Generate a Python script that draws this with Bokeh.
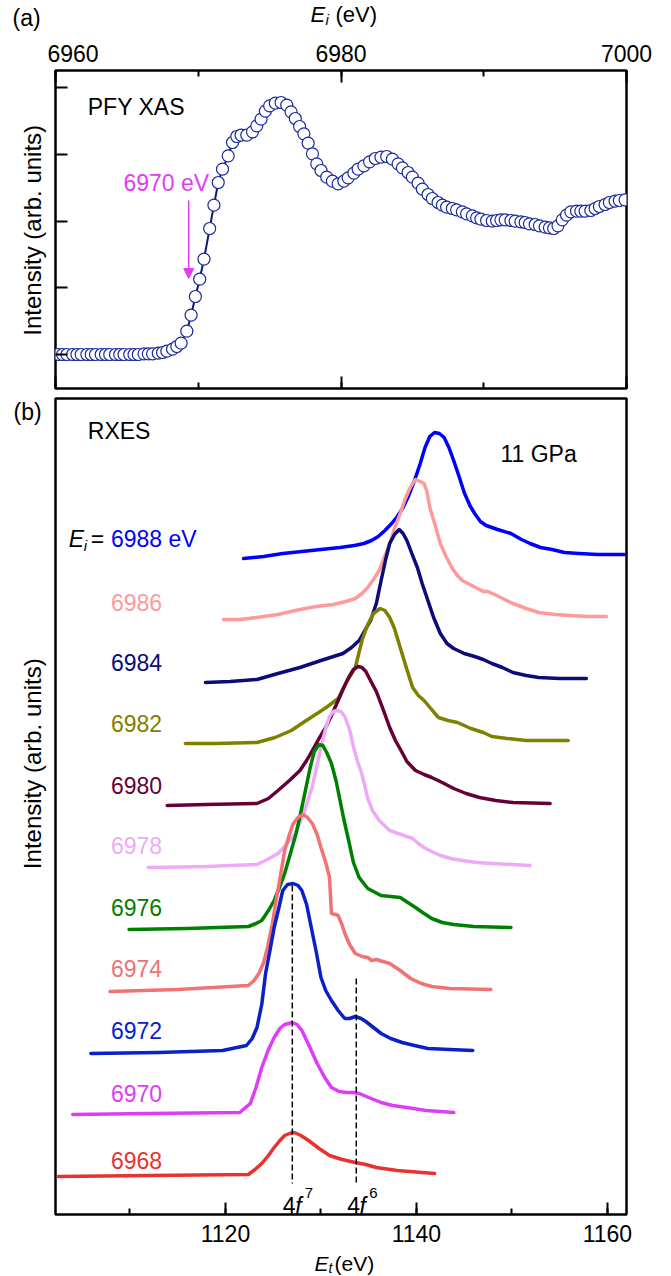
import math
from bokeh.plotting import figure
from bokeh.layouts import column, row
from bokeh.models import (ColumnDataSource, Arrow, NormalHead, SingleIntervalTicker,
                          LinearAxis, Range1d, CustomJSTickFormatter)
from bokeh.core.properties import value
from bokeh.embed import file_html
from bokeh.resources import INLINE

FONT = "Liberation Sans"

# ---------------- (a) PFY XAS data ----------------
xas_e = [6960.2, 6960.5, 6960.8, 6961.2, 6961.5, 6961.8, 6962.2, 6962.5, 6962.8, 6963.2,
         6963.5, 6963.8, 6964.2, 6964.5, 6964.8, 6965.2, 6965.5, 6965.8, 6966.2, 6966.5,
         6966.8, 6967.2, 6967.5, 6967.8, 6968.2, 6968.5, 6968.8, 6969.2, 6969.5, 6969.8,
         6970.1, 6970.4, 6970.8, 6971.1, 6971.4, 6971.7, 6972.1, 6972.4, 6972.7, 6973.0,
         6973.4, 6973.8, 6974.1, 6974.4, 6974.7, 6975.0, 6975.4, 6975.8, 6976.2, 6976.5,
         6976.8, 6977.1, 6977.4, 6977.7, 6978.0, 6978.3, 6978.6, 6979.0, 6979.4, 6979.8,
         6980.2, 6980.5, 6980.9, 6981.2, 6981.6, 6982.0, 6982.4, 6982.8, 6983.2, 6983.6,
         6984.0, 6984.3, 6984.7, 6985.0, 6985.4, 6985.7, 6986.1, 6986.4, 6986.8, 6987.1,
         6987.4, 6987.8, 6988.1, 6988.5, 6988.8, 6989.2, 6989.5, 6989.8, 6990.2, 6990.6,
         6990.9, 6991.2, 6991.5, 6991.9, 6992.2, 6992.6, 6992.9, 6993.2, 6993.6, 6993.9,
         6994.3, 6994.6, 6994.9, 6995.2, 6995.5, 6995.8, 6996.1, 6996.5, 6996.8, 6997.1,
         6997.5, 6997.8, 6998.1, 6998.5, 6998.8, 6999.2, 6999.5, 6999.9]
xas_i = [0.00, 0.00, 0.00, 0.00, 0.00, 0.00, 0.00, 0.00, 0.00, 0.00,
         0.00, 0.00, 0.00, 0.00, 0.00, 0.00, 0.00, 0.00, 0.01, 0.01,
         0.01, 0.02, 0.03, 0.05, 0.08, 0.12, 0.17, 0.35, 0.59, 0.87,
         1.13, 1.43, 1.89, 2.24, 2.58, 2.78, 2.98, 3.18, 3.27, 3.29,
         3.29, 3.34, 3.43, 3.53, 3.65, 3.73, 3.77, 3.78, 3.74, 3.64,
         3.54, 3.42, 3.31, 3.17, 3.01, 2.86, 2.76, 2.66, 2.60, 2.56,
         2.60, 2.65, 2.72, 2.78, 2.83, 2.89, 2.94, 2.96, 2.97, 2.93,
         2.86, 2.80, 2.73, 2.66, 2.57, 2.48, 2.40, 2.34, 2.28, 2.24,
         2.21, 2.19, 2.17, 2.14, 2.11, 2.08, 2.05, 2.03, 2.01, 2.00,
         2.01, 2.02, 2.02, 2.01, 2.00, 1.99, 1.98, 1.96, 1.95, 1.93,
         1.91, 1.90, 1.89, 1.93, 2.02, 2.09, 2.14, 2.15, 2.15, 2.15,
         2.16, 2.19, 2.22, 2.25, 2.28, 2.30, 2.31, 2.32]
arrow_e = 6969.33
arrow_from = 2.31
arrow_to = 1.14

# ---------------- (b) RXES data ----------------
e6988 = [1121.9, 1124.0, 1126.0, 1128.0, 1130.0, 1132.0, 1133.5, 1134.5, 1135.3, 1136.0,
         1136.7, 1137.4, 1138.0, 1138.6, 1139.2, 1139.8, 1140.4, 1140.9, 1141.4, 1141.9,
         1142.4, 1142.9, 1143.4, 1143.9, 1144.5, 1145.0, 1145.6, 1146.1, 1146.7, 1147.3,
         1148.5, 1149.9, 1151.0, 1151.9, 1153.0, 1154.2, 1155.5, 1157.0, 1159.0, 1161.8]
i6988 = [6.56, 6.58, 6.61, 6.63, 6.65, 6.67, 6.69, 6.71, 6.74, 6.78,
         6.84, 6.91, 6.98, 7.07, 7.19, 7.34, 7.51, 7.67, 7.78, 7.82,
         7.81, 7.77, 7.67, 7.54, 7.37, 7.22, 7.09, 7.01, 6.93, 6.89,
         6.85, 6.81, 6.75, 6.71, 6.67, 6.65, 6.62, 6.61, 6.60, 6.60]
e6986 = [1119.8, 1121.5, 1123.3, 1125.5, 1127.8, 1129.5, 1131.3, 1132.6, 1133.6, 1134.3,
         1134.9, 1135.5, 1136.1, 1136.6, 1137.2, 1137.7, 1138.3, 1138.8, 1139.2, 1139.6,
         1139.9, 1140.4, 1140.8, 1141.1, 1141.4, 1142.0, 1142.5, 1143.1, 1143.7, 1144.2,
         1144.8, 1146.0, 1147.0, 1147.5, 1148.4, 1150.1, 1151.5, 1152.8, 1154.5, 1156.0,
         1158.0, 1159.9]
i6986 = [5.95, 5.95, 5.97, 6.00, 6.05, 6.08, 6.10, 6.13, 6.16, 6.21,
         6.27, 6.35, 6.44, 6.56, 6.71, 6.86, 7.01, 7.15, 7.24, 7.31,
         7.35, 7.33, 7.31, 7.23, 7.07, 6.88, 6.71, 6.58, 6.47, 6.40,
         6.34, 6.28, 6.23, 6.23, 6.19, 6.11, 6.06, 6.02, 6.00, 5.99,
         5.98, 5.98]
e6984 = [1117.9, 1120.5, 1123.3, 1125.5, 1127.8, 1130.0, 1132.3, 1133.2, 1134.0, 1134.6,
         1135.2, 1135.8, 1136.3, 1136.8, 1137.2, 1137.7, 1138.2, 1138.6, 1139.0, 1139.6,
         1140.1, 1140.6, 1141.2, 1141.8, 1142.5, 1143.2, 1143.9, 1145.0, 1146.1, 1147.0,
         1147.9, 1149.0, 1150.1, 1151.5, 1152.8, 1155.0, 1157.8]
i6984 = [5.32, 5.33, 5.35, 5.41, 5.47, 5.54, 5.61, 5.67, 5.74, 5.84,
         5.94, 6.11, 6.34, 6.56, 6.71, 6.80, 6.85, 6.81, 6.74, 6.59,
         6.47, 6.31, 6.14, 5.97, 5.81, 5.71, 5.66, 5.61, 5.58, 5.55,
         5.51, 5.47, 5.42, 5.39, 5.37, 5.36, 5.36]
e6982 = [1115.8, 1119.0, 1123.3, 1125.2, 1126.9, 1128.3, 1129.6, 1130.7, 1131.8, 1132.7,
         1133.6, 1134.3, 1134.9, 1135.5, 1136.2, 1136.7, 1137.2, 1137.7, 1138.3, 1139.0,
         1139.6, 1140.2, 1140.8, 1141.5, 1142.3, 1143.3, 1144.3, 1145.7, 1147.0, 1147.9,
         1149.5, 1151.5, 1155.9]
i6982 = [4.71, 4.71, 4.72, 4.77, 4.84, 4.93, 5.01, 5.08, 5.16, 5.33,
         5.47, 5.74, 5.90, 6.01, 6.06, 6.04, 5.97, 5.86, 5.67, 5.45,
         5.27, 5.19, 5.14, 5.06, 4.97, 4.94, 4.92, 4.86, 4.82, 4.78,
         4.76, 4.74, 4.74]
e6980 = [1113.9, 1118.0, 1123.3, 1124.5, 1125.5, 1126.7, 1127.8, 1128.5, 1129.1, 1129.8,
         1130.5, 1131.2, 1131.8, 1132.4, 1132.9, 1133.4, 1133.9, 1134.3, 1134.7, 1135.3,
         1135.8, 1136.4, 1137.2, 1137.8, 1138.5, 1139.0, 1139.9, 1140.8, 1141.6, 1142.7,
         1143.9, 1145.2, 1146.6, 1148.3, 1150.1, 1154.0]
i6980 = [4.09, 4.10, 4.11, 4.16, 4.24, 4.34, 4.44, 4.54, 4.64, 4.76,
         4.87, 5.01, 5.14, 5.27, 5.37, 5.45, 5.48, 5.47, 5.43, 5.32,
         5.23, 5.08, 4.87, 4.74, 4.62, 4.53, 4.44, 4.40, 4.37, 4.32,
         4.26, 4.21, 4.17, 4.14, 4.12, 4.11]
e6978 = [1111.9, 1118.0, 1123.3, 1124.4, 1125.5, 1126.4, 1127.3, 1128.2, 1129.1, 1130.0,
         1130.5, 1130.9, 1131.3, 1131.7, 1132.1, 1132.5, 1133.0, 1133.4, 1133.8, 1134.3,
         1134.9, 1135.4, 1136.1, 1137.2, 1138.4, 1139.6, 1140.2, 1140.8, 1141.6, 1142.5,
         1143.6, 1144.8, 1146.3, 1147.9, 1151.9]
i6978 = [3.47, 3.48, 3.50, 3.55, 3.61, 3.70, 3.81, 4.01, 4.28, 4.67,
         4.86, 4.98, 5.03, 5.04, 5.03, 4.98, 4.85, 4.68, 4.54, 4.40,
         4.16, 4.04, 3.94, 3.84, 3.80, 3.76, 3.71, 3.67, 3.63, 3.59,
         3.56, 3.54, 3.52, 3.51, 3.49]
e6976 = [1109.9, 1116.0, 1122.4, 1123.2, 1123.8, 1124.5, 1125.1, 1125.7, 1126.2, 1126.8,
         1127.4, 1128.0, 1128.5, 1128.9, 1129.3, 1129.8, 1130.2, 1130.6, 1131.1, 1131.6,
         1132.0, 1132.4, 1132.9, 1133.4, 1134.0, 1134.9, 1136.3, 1137.3, 1138.3, 1139.1,
         1139.9, 1140.8, 1141.6, 1142.7, 1143.9, 1146.0, 1149.9]
i6976 = [2.85, 2.86, 2.88, 2.91, 2.94, 3.04, 3.14, 3.28, 3.41, 3.61,
         3.81, 4.07, 4.30, 4.48, 4.63, 4.70, 4.69, 4.62, 4.51, 4.33,
         4.14, 3.95, 3.74, 3.52, 3.37, 3.26, 3.19, 3.18, 3.17, 3.12,
         3.07, 3.01, 2.96, 2.92, 2.90, 2.88, 2.87]
e6974 = [1107.9, 1115.0, 1122.4, 1123.0, 1123.5, 1124.0, 1124.4, 1124.9, 1125.3, 1125.8,
         1126.2, 1126.7, 1127.1, 1127.6, 1128.1, 1128.6, 1129.1, 1129.6, 1130.0, 1130.5,
         1130.9, 1131.1, 1131.5, 1131.8, 1132.2, 1132.5, 1133.0, 1133.6, 1134.3, 1134.9,
         1135.3, 1135.8, 1137.2, 1138.3, 1139.4, 1140.5, 1141.6, 1143.5, 1147.8]
i6974 = [2.23, 2.25, 2.29, 2.34, 2.41, 2.52, 2.67, 2.90, 3.14, 3.41,
         3.64, 3.80, 3.91, 3.97, 4.00, 3.97, 3.91, 3.80, 3.67, 3.52,
         3.37, 3.01, 3.00, 2.99, 2.90, 2.81, 2.70, 2.61, 2.58, 2.57,
         2.54, 2.55, 2.51, 2.44, 2.36, 2.31, 2.28, 2.26, 2.25]
e6972 = [1105.9, 1113.0, 1119.7, 1122.2, 1122.8, 1123.3, 1123.8, 1124.2, 1124.7, 1125.1,
         1125.6, 1126.0, 1126.5, 1127.1, 1127.6, 1128.0, 1128.5, 1128.9, 1129.5, 1130.0,
         1130.5, 1131.1, 1131.8, 1132.5, 1133.0, 1133.6, 1134.2, 1134.7, 1135.5, 1136.3,
         1137.3, 1138.5, 1139.8, 1141.2, 1143.5, 1145.9]
i6972 = [1.61, 1.62, 1.64, 1.69, 1.76, 1.87, 2.10, 2.41, 2.66, 2.87,
         3.07, 3.24, 3.30, 3.31, 3.29, 3.24, 3.10, 2.91, 2.63, 2.37,
         2.24, 2.14, 2.04, 1.96, 1.96, 1.98, 1.96, 1.93, 1.87, 1.81,
         1.76, 1.72, 1.69, 1.66, 1.65, 1.64]
e6970 = [1104.0, 1112.0, 1121.5, 1122.6, 1123.2, 1123.8, 1124.5, 1125.1, 1125.7, 1126.2,
         1127.0, 1127.5, 1128.0, 1128.8, 1129.6, 1130.4, 1131.1, 1131.9, 1132.7, 1133.4,
         1134.0, 1135.0, 1136.3, 1137.5, 1139.0, 1141.0, 1143.9]
i6970 = [1.00, 1.01, 1.02, 1.11, 1.27, 1.47, 1.65, 1.77, 1.86, 1.90,
         1.92, 1.90, 1.84, 1.68, 1.51, 1.37, 1.27, 1.23, 1.22, 1.22,
         1.21, 1.17, 1.12, 1.09, 1.07, 1.04, 1.02]
e6968 = [1102.5, 1112.0, 1122.4, 1123.1, 1123.8, 1124.5, 1125.1, 1125.7, 1126.2, 1126.7,
         1127.2, 1127.9, 1128.7, 1129.8, 1130.9, 1132.2, 1133.6, 1134.7, 1135.8, 1138.0,
         1141.9]
i6968 = [0.38, 0.39, 0.40, 0.45, 0.51, 0.59, 0.67, 0.74, 0.79, 0.81,
         0.82, 0.79, 0.74, 0.66, 0.59, 0.55, 0.52, 0.50, 0.47, 0.44,
         0.41]

ei_labels = ["6988 eV", "6986", "6984", "6982", "6980", "6978",
             "6976", "6974", "6972", "6970", "6968"]
ei_label_y = [6.76, 6.12, 5.52, 4.91, 4.29, 3.69, 3.07, 2.46, 1.84, 1.21, 0.54]
colors = ["#0000ff", "#ff9a9a", "#0c0c78", "#808000", "#650038", "#eeaaf7",
          "#008000", "#f07272", "#0a20c8", "#de3cf8", "#e83232"]
curves_e = [e6988, e6986, e6984, e6982, e6980, e6978, e6976, e6974, e6972, e6970, e6968]
curves_i = [i6988, i6986, i6984, i6982, i6980, i6978, i6976, i6974, i6972, i6970, i6968]

peak_x = [1127.0, 1133.7]      # 4f7 and 4f6 markers
peak_top = [3.29, 2.36]
peak_bottom = [0.31, 0.31]

MAG = "#e33cf5"


def base_style(p):
    p.xgrid.visible = False
    p.ygrid.visible = False
    p.outline_line_color = "black"
    p.outline_line_width = 2.5
    p.background_fill_color = "white"
    p.border_fill_color = "white"


def style_axis(ax, labels=True, standoff=4):
    ax.axis_line_color = None
    ax.major_tick_in = 12
    ax.major_tick_out = 0
    ax.minor_tick_in = 6
    ax.minor_tick_out = 0
    ax.major_tick_line_width = 2
    ax.minor_tick_line_width = 2
    ax.major_tick_line_color = "black"
    ax.minor_tick_line_color = "black"
    ax.major_label_text_font = FONT
    ax.major_label_text_color = "black"
    if labels:
        ax.major_label_text_font_size = "23px"
        ax.major_label_standoff = standoff
    else:
        ax.formatter = CustomJSTickFormatter(code="return ''")
        ax.major_label_text_font_size = "1px"
        ax.major_label_standoff = 0


def text_canvas(w, h):
    """A blank figure whose frame fills the canvas; data units = pixels from top-left."""
    c = figure(width=w, height=h, x_range=Range1d(0, w), y_range=Range1d(h, 0),
               x_axis_location=None, y_axis_location=None, min_border=0,
               output_backend="svg", toolbar_location=None)
    c.xgrid.visible = False
    c.ygrid.visible = False
    c.outline_line_color = None
    c.background_fill_color = "white"
    c.border_fill_color = "white"
    return c


def put(c, x, y, t, size="23px", style="normal", color="black", align="left", angle=0.0):
    c.text(x=[x], y=[y], text=[t], text_font=value(FONT), text_font_size=value(size),
           text_font_style=style, text_color=color, text_align=align,
           text_baseline="middle", angle=angle)


# ---------- header: (a) and top axis title ----------
header = text_canvas(658, 34)
put(header, 12, 17, "(a)")
put(header, 310, 13.5, "E", size="22px", style="italic")
put(header, 325, 18.5, "i", size="15px", style="italic")
put(header, 335, 13.5, "(eV)", size="22px")

# ================= panel (a) =================
pa = figure(width=611, height=359,
            x_range=Range1d(6960, 7000), y_range=Range1d(-0.51, 4.26),
            x_axis_location="above", output_backend="svg", toolbar_location=None,
            min_border_left=8, min_border_right=32, min_border_top=36,
            min_border_bottom=5)
base_style(pa)
pa.xaxis.ticker = SingleIntervalTicker(interval=20, num_minor_ticks=2)
style_axis(pa.xaxis[0], labels=True, standoff=9)
bottom_ax = LinearAxis(ticker=SingleIntervalTicker(interval=20, num_minor_ticks=2))
style_axis(bottom_ax, labels=False)
pa.add_layout(bottom_ax, "below")
pa.yaxis.ticker = SingleIntervalTicker(interval=1, num_minor_ticks=0)
style_axis(pa.yaxis[0], labels=False)

pa.line(xas_e, xas_i, line_color="#0d1a6e", line_width=2)
pa.scatter(xas_e, xas_i, marker="circle", size=12, fill_color="white",
           line_color="#1a2a9a", line_width=1.2)
pa.text(x=[6962.26], y=[3.71], text=["PFY XAS"], text_font=value(FONT),
        text_font_size=value("23px"), text_color="black",
        text_align="left", text_baseline="middle")
pa.text(x=[6964.76], y=[2.58], text=["6970 eV"], text_font=value(FONT),
        text_font_size=value("23px"), text_color=MAG,
        text_align="left", text_baseline="middle")
pa.add_layout(Arrow(end=NormalHead(size=10, fill_color=MAG, line_color=MAG, line_width=1),
                    x_start=arrow_e, y_start=arrow_from, x_end=arrow_e, y_end=arrow_to,
                    line_color=MAG, line_width=1.5))

strip_a = text_canvas(47, 359)
put(strip_a, 32, 180.4, "Intensity (arb. units)", size="24px", align="center",
    angle=math.pi / 2)

# ================= panel (b) =================
pb = figure(width=611, height=859,
            x_range=Range1d(1102.2, 1162.0), y_range=Range1d(0, 8.16),
            output_backend="svg", toolbar_location=None,
            min_border_left=8, min_border_right=32, min_border_top=5,
            min_border_bottom=38)
base_style(pb)
pb.xaxis.ticker = SingleIntervalTicker(interval=20, num_minor_ticks=2)
style_axis(pb.xaxis[0], labels=True, standoff=10)
pb.yaxis.visible = False

for e, i, c in zip(curves_e, curves_i, colors):
    pb.line(e, i, line_color=c, line_width=3.5, line_join="round", line_cap="round")

pb.segment(x0=peak_x, y0=peak_top, x1=peak_x, y1=peak_bottom,
           line_color="black", line_width=1.5, line_dash="6 3")

lab_src = ColumnDataSource(dict(x=[1108.0] * len(ei_labels), y=ei_label_y,
                                text=ei_labels, color=colors))
pb.text(x="x", y="y", text="text", text_color="color", source=lab_src,
        text_font=value(FONT), text_font_size=value("23px"),
        text_align="left", text_baseline="middle")
pb.text(x=[1103.6], y=[6.76], text=["E"], text_font=value(FONT),
        text_font_size=value("23px"), text_font_style="italic",
        text_align="left", text_baseline="middle", text_color="black")
pb.text(x=[1105.15], y=[6.69], text=["i"], text_font=value(FONT),
        text_font_size=value("15px"), text_font_style="italic",
        text_align="left", text_baseline="middle", text_color="black")
pb.text(x=[1105.9], y=[6.76], text=["="], text_font=value(FONT),
        text_font_size=value("23px"),
        text_align="left", text_baseline="middle", text_color="black")
pb.text(x=[1105.58], y=[7.84], text=["RXES"], text_font=value(FONT),
        text_font_size=value("23px"), text_align="left", text_baseline="middle",
        text_color="black")
pb.text(x=[1148.8], y=[7.61], text=["11 GPa"], text_font=value(FONT),
        text_font_size=value("23px"), text_align="left", text_baseline="middle",
        text_color="black")

for x4, xf, xs, sup in [(1126.0, 1127.3, 1128.3, "7"), (1132.75, 1134.05, 1135.05, "6")]:
    pb.text(x=[x4], y=[0.09], text=["4"], text_font=value(FONT),
            text_font_size=value("23px"), text_align="left", text_baseline="alphabetic",
            text_color="black")
    pb.text(x=[xf], y=[0.09], text=["f"], text_font=value(FONT),
            text_font_size=value("23px"), text_font_style="italic",
            text_align="left", text_baseline="alphabetic", text_color="black")
    pb.text(x=[xs], y=[0.22], text=[sup], text_font=value(FONT),
            text_font_size=value("15px"), text_align="left", text_baseline="alphabetic",
            text_color="black")

strip_b = text_canvas(47, 859)
put(strip_b, 13, 14, "(b)")
put(strip_b, 32, 384.5, "Intensity (arb. units)", size="24px", align="center",
    angle=math.pi / 2)

# ---------- footer: bottom axis title ----------
footer = text_canvas(658, 24)
put(footer, 314, 11, "E", size="21px", style="italic")
put(footer, 328, 15, "t", size="14px", style="italic")
put(footer, 334, 11, "(eV)", size="21px")

layout = column(header, row(strip_a, pa), row(strip_b, pb), footer)
open("out.html", "w").write(file_html(layout, INLINE))
